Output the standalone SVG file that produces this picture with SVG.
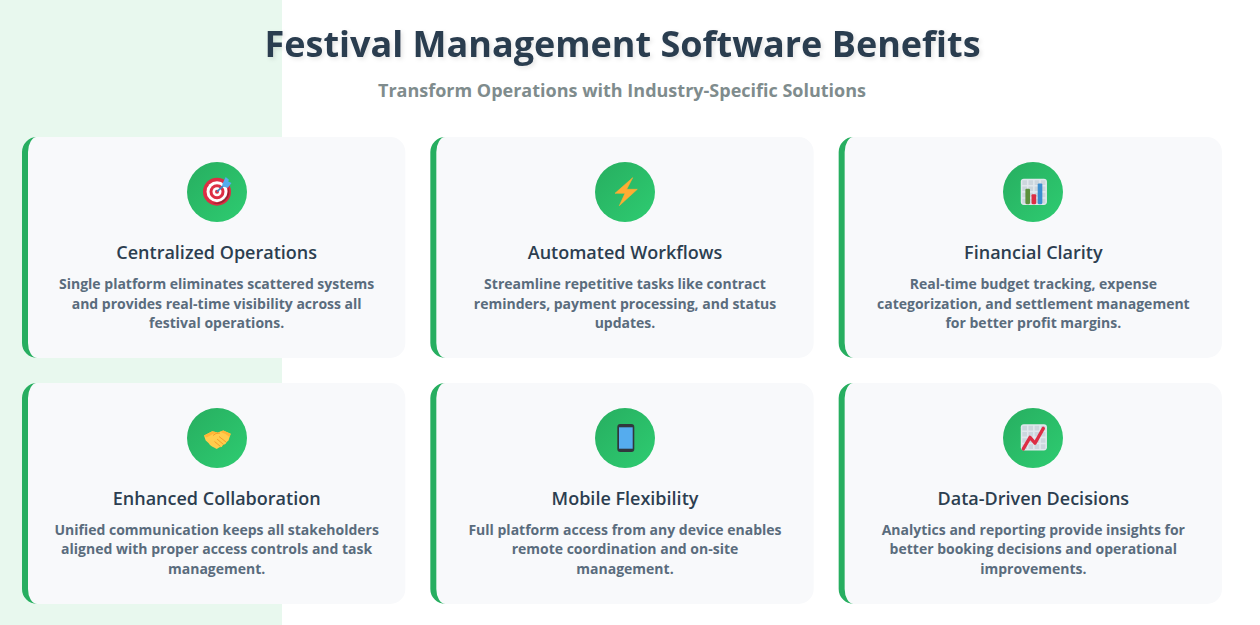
<svg xmlns="http://www.w3.org/2000/svg" width="1260" height="625" viewBox="0 0 1260 625">
<style>
text{font-family:"Open Sans","Noto Sans",sans-serif;text-anchor:middle}
.h{font-size:36px;font-weight:700;fill:#2c3e50}
.s{font-size:18px;font-weight:700;fill:#7f8c8d}
.t{font-size:18px;font-weight:600;fill:#2c3e50}
.d{font-size:14px;font-weight:700;fill:#5a6c7d}
.card{fill:#f8f9fb}.bar{fill:#27ae60}
</style>
<defs>
<linearGradient id="ig" x1="0" y1="0" x2="1" y2="1"><stop offset="0" stop-color="#27ae60"/><stop offset="1" stop-color="#2ecc71"/></linearGradient>
<filter id="sh" x="-5%" y="-30%" width="110%" height="170%"><feDropShadow dx="2" dy="2" stdDeviation="2" flood-color="#000" flood-opacity=".1"/></filter>
<path id="cb" class="card" d="M15 0H368.33A15 15 0 0 1 383.33 15V206A15 15 0 0 1 368.33 221H15A9 15 0 0 1 6 206V15A9 15 0 0 1 15 0Z"/>
<path id="br" class="bar" d="M15 0A15 15 0 0 0 0 15V206A15 15 0 0 0 15 221A9 15 0 0 1 6 206V15A9 15 0 0 1 15 0Z"/>
<circle id="ic" r="30" fill="url(#ig)"/>
<g id="grid"><rect x="1" y="1" width="34" height="34" rx="4" fill="#e1e8ed"/><path fill="#ccd6dd" d="M3 3h6v6H3zM11 3h6v6h-6zM19 3h6v6h-6zM27 3h6v6h-6zM3 11h6v6H3zM11 11h6v6h-6zM19 11h6v6h-6zM27 11h6v6h-6zM3 19h6v6H3zM11 19h6v6h-6zM19 19h6v6h-6zM27 19h6v6h-6zM3 27h6v6H3zM11 27h6v6h-6zM19 27h6v6h-6zM27 27h6v6h-6z"/></g>
</defs>
<rect width="1260" height="625" fill="#fff"/>
<rect width="282" height="625" fill="#e8f8ee"/>
<text class="h" x="622.5" y="57" filter="url(#sh)">Festival Management Software Benefits</text>
<text class="s" x="622" y="96.5">Transform Operations with Industry-Specific Solutions</text>
<g id="card1" transform="translate(22 137)"><use href="#cb"/><use href="#br"/><use href="#ic" x="195" y="55"/>
<g transform="translate(195 54.7)"><circle r="14" fill="#dd2e44"/><circle r="10.5" fill="#fff"/><circle r="7.5" fill="#dd2e44"/><circle r="4.5" fill="#fff"/><circle r="2" fill="#dd2e44"/><path d="M11 -5A12 12 0 0 1 -5 11A14 14 0 0 0 11 -5Z" fill="#000" opacity=".28"/><path d="M0 0L7 -6.5" stroke="#3b88c3" stroke-width="1.8" fill="none"/><path d="M5.2 -7.5L8.7 -14.6L12 -12L11.2 -10.2L14.5 -8.7L10.9 -3.9L6.8 -4.9Z" fill="#55acee"/></g>
<text class="t" x="194.67" y="122">Centralized Operations</text><text class="d" x="194.67" y="152">Single platform eliminates scattered systems</text><text class="d" x="194.67" y="172">and provides real-time visibility across all</text><text class="d" x="194.67" y="191">festival operations.</text></g>
<g id="card2" transform="translate(430.33 137)"><use href="#cb"/><use href="#br"/><use href="#ic" x="194.67" y="55"/>
<path transform="translate(194.67 55)" d="M7.7 -14.3L-10 1.3H0L-5.7 13.7L12.3 -2.7H1.7Z" fill="#ffac33" stroke="#ffac33" stroke-width=".6" stroke-linejoin="round"/>
<text class="t" x="194.67" y="122">Automated Workflows</text><text class="d" x="194.67" y="152">Streamline repetitive tasks like contract</text><text class="d" x="194.67" y="172">reminders, payment processing, and status</text><text class="d" x="194.67" y="191">updates.</text></g>
<g id="card3" transform="translate(838.67 137)"><use href="#cb"/><use href="#br"/><use href="#ic" x="194.33" y="55"/>
<g transform="translate(181.33 41) scale(.77)"><use href="#grid"/><rect x="7" y="14" width="6" height="20" rx="1.5" fill="#5c913b"/><rect x="15" y="21" width="6" height="13" rx="1.5" fill="#dd2e44"/><rect x="23" y="7" width="6" height="27" rx="1.5" fill="#3b8ed0"/></g>
<text class="t" x="194.67" y="122">Financial Clarity</text><text class="d" x="194.67" y="152">Real-time budget tracking, expense</text><text class="d" x="194.67" y="172">categorization, and settlement management</text><text class="d" x="194.67" y="191">for better profit margins.</text></g>
<g id="card4" transform="translate(22 383)"><use href="#cb"/><use href="#br"/><use href="#ic" x="195" y="55"/>
<g transform="translate(195 55)"><path d="M-13 -2.5L-4.7 -6.8L.7 -5.5L6.3 -7.6L13.7 -4.2L11.5 2.5L9.5 4.2L8.5 6L6 7L4.7 9L2.5 9.3L-.3 11L-3 9.5L-5 8.5L-7 7L-8.5 5L-11.3 2.5Z" fill="#ffcc4d"/><path d="M-13 -2.5L-4.7 -6.8L.7 -5.5L-4 -4L-10.5 -.5Z M6.3 -7.6L13.7 -4.2L12.6 -1L8.5 -4L3 -6.2Z" fill="#ffb636"/><path d="M-4 -2.5L-1 -4.5L3 -5M2 -1.5L9 4M0 1L6.5 6.5M-2.5 3.5L3.5 8.5" stroke="#f19020" stroke-width=".8" fill="none"/></g>
<text class="t" x="194.67" y="122">Enhanced Collaboration</text><text class="d" x="194.67" y="152">Unified communication keeps all stakeholders</text><text class="d" x="194.67" y="171">aligned with proper access controls and task</text><text class="d" x="194.67" y="191">management.</text></g>
<g id="card5" transform="translate(430.33 383)"><use href="#cb"/><use href="#br"/><use href="#ic" x="194.67" y="55"/>
<g transform="translate(194.67 55)"><rect x="-7.7" y="-14" width="17" height="28" rx="3" fill="#31373d"/><rect x="-6" y="-10.7" width="13.7" height="21.4" fill="#55acee"/></g>
<text class="t" x="194.67" y="122">Mobile Flexibility</text><text class="d" x="194.67" y="152">Full platform access from any device enables</text><text class="d" x="194.67" y="171">remote coordination and on-site</text><text class="d" x="194.67" y="191">management.</text></g>
<g id="card6" transform="translate(838.67 383)"><use href="#cb"/><use href="#br"/><use href="#ic" x="194.33" y="55"/>
<g transform="translate(181.33 40.5) scale(.77)"><use href="#grid"/><path d="M4.3 33L13 18L19.5 25.7L30.3 6.3" fill="none" stroke="#dd2e44" stroke-width="4.3" stroke-linecap="round" stroke-linejoin="round"/></g>
<text class="t" x="194.67" y="122">Data-Driven Decisions</text><text class="d" x="194.67" y="152">Analytics and reporting provide insights for</text><text class="d" x="194.67" y="171">better booking decisions and operational</text><text class="d" x="194.67" y="191">improvements.</text></g>
</svg>
